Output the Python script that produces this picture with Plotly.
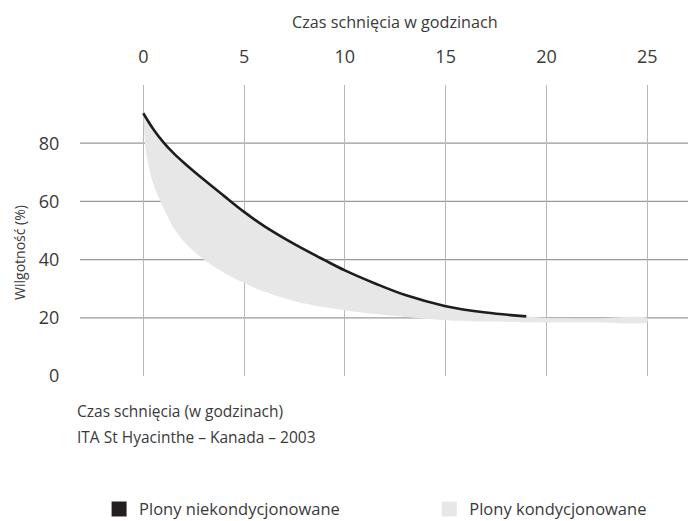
import plotly.graph_objects as go

# --- data ---
godziny_nk = [0, 0.5, 1, 1.5, 2, 3, 4, 5, 6, 7.5, 9, 10, 11.5, 13, 15, 17, 19]
wilg_nk = [90.3, 84.8, 80.3, 76.6, 73.4, 67.5, 61.9, 56.4, 51.5, 45.3, 39.8, 36.3, 31.8, 27.8, 24.0, 21.8, 20.5]

godziny_k = [0, 0.1, 0.3, 0.5, 0.85, 1.5, 2, 3, 4, 5, 6, 7.5, 9, 10, 11.5, 13, 15, 17, 19, 20, 22.5, 25]
wilg_k = [90, 79, 71, 66, 60, 51, 46.3, 40, 35.5, 32, 29, 25.7, 23.6, 22.6, 21.3, 20.3, 19.2, 18.7, 18.5, 18.4, 18.4, 18.5]

godziny_pas = [20, 22.5, 25]
wilg_pas = [19.9, 19.8, 19.9]

x_ticks = [0, 5, 10, 15, 20, 25]
y_ticks = [0, 20, 40, 60, 80]
y_siatka = [20, 40, 60, 80]

TEXT = "#3a3a3a"
FONT = "Open Sans"

fig = go.Figure()

# grey band (conditioned crops): lower curve forward, upper boundary backward
gora_x = godziny_nk + godziny_pas
gora_y = wilg_nk + wilg_pas
fig.add_trace(go.Scatter(
    x=godziny_k + gora_x[::-1],
    y=wilg_k + gora_y[::-1],
    fill="toself", fillcolor="#e6e7e6",
    line=dict(width=0, shape="spline", smoothing=0.8),
    mode="lines", hoverinfo="skip", showlegend=False,
    name="Plony kondycjonowane"))

# black curve (unconditioned crops)
fig.add_trace(go.Scatter(
    x=godziny_nk, y=wilg_nk, mode="lines",
    line=dict(color="#1d1d1b", width=2.6, shape="spline", smoothing=1),
    showlegend=False, name="Plony niekondycjonowane"))

# legend entries
fig.add_trace(go.Scatter(x=[None], y=[None], mode="markers",
                         marker=dict(symbol="square", size=15, color="#231f20"),
                         name="Plony niekondycjonowane", legend="legend"))
fig.add_trace(go.Scatter(x=[None], y=[None], mode="markers",
                         marker=dict(symbol="square", size=15, color="#e6e7e6"),
                         name="Plony kondycjonowane", legend="legend2"))

shapes = [dict(type="line", xref="paper", x0=0, x1=1, yref="y", y0=v, y1=v,
               line=dict(color="#9a9a9a", width=1.2), layer="below") for v in y_siatka]

leg_common = dict(orientation="h", xanchor="left", y=-0.458, yanchor="middle",
                  font=dict(size=16.5, color=TEXT), itemclick=False, bgcolor="rgba(0,0,0,0)")

fig.update_layout(
    width=688, height=513,
    margin=dict(l=72, r=0, t=77, b=145, autoexpand=False),
    plot_bgcolor="white", paper_bgcolor="white",
    font=dict(family=FONT, color=TEXT, size=16),
    shapes=shapes,
    xaxis=dict(side="top", range=[-3.14, 27.42], tickvals=x_ticks,
               showgrid=True, gridcolor="#b8b8b8", gridwidth=1.2,
               zeroline=False, showline=False, automargin=False,
               ticks="outside", ticklen=14, tickcolor="rgba(0,0,0,0)",
               tickfont=dict(size=18, color=TEXT)),
    yaxis=dict(range=[0, 100], tickvals=y_ticks, showgrid=False,
               zeroline=False, showline=False, automargin=False,
               ticks="outside", ticklen=16, tickcolor="rgba(0,0,0,0)",
               tickfont=dict(size=18, color=TEXT)),
    legend=dict(x=0.031, **leg_common),
    legend2=dict(x=0.567, **leg_common),
    annotations=[
        dict(text="Czas schnięcia w godzinach", xref="x", x=12.5, yref="paper", y=1.216,
             showarrow=False, xanchor="center", yanchor="middle", font=dict(size=16.2, color=TEXT)),
        dict(text="Wilgotność (%)", xref="paper", x=-0.0974, yref="paper", y=0.423,
             textangle=-90, showarrow=False, xanchor="center", yanchor="middle",
             font=dict(size=14, color=TEXT)),
        dict(text="Czas schnięcia (w godzinach)", xref="paper", x=-0.008, yref="paper", y=-0.120,
             showarrow=False, xanchor="left", yanchor="middle", font=dict(size=15.5, color=TEXT)),
        dict(text="ITA St Hyacinthe – Kanada – 2003", xref="paper", x=-0.008, yref="paper", y=-0.210,
             showarrow=False, xanchor="left", yanchor="middle", font=dict(size=15.5, color=TEXT)),
    ],
)

fig.write_html("out.html")
